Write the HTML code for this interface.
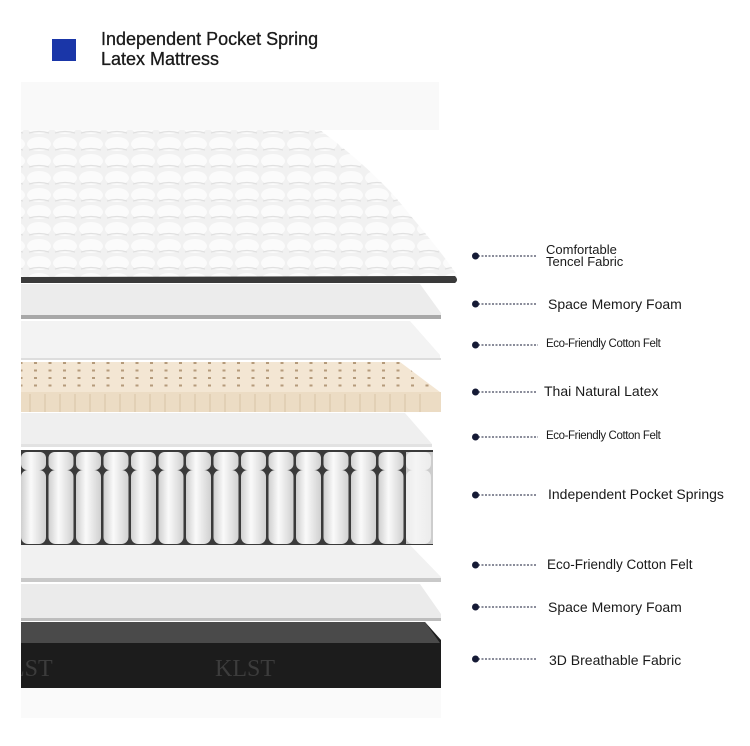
<!DOCTYPE html>
<html><head><meta charset="utf-8"><style>
html,body{margin:0;padding:0;background:#fff;width:750px;height:746px;overflow:hidden;font-family:"Liberation Sans",sans-serif;}
.t{position:absolute;color:#1a1a1a;white-space:nowrap;}
</style></head><body>
<div style="position:absolute;left:52px;top:39px;width:24px;height:22px;background:#1a36a8"></div>
<div class="t" style="left:101px;top:29px;font-size:18px;line-height:20px;color:#1a1a1a;-webkit-text-stroke:0.3px #1a1a1a">Independent Pocket Spring<br>Latex Mattress</div>
<svg width="750" height="746" style="position:absolute;left:0;top:0">
<defs>
<pattern id="q" width="26" height="17" patternUnits="userSpaceOnUse">
<rect width="26" height="17" fill="#f1f1f1"/>
<ellipse cx="13" cy="8" rx="12" ry="7" fill="#fbfbfb"/>
<path d="M3 14 Q13 11 23 14" stroke="#e0e0e0" stroke-width="1.2" fill="none"/>
</pattern>
<pattern id="dots" width="14.5" height="7.5" patternUnits="userSpaceOnUse">
<rect width="14.5" height="7.5" fill="#f3e6d3"/>
<rect x="5" y="2" width="3" height="2" fill="#b59b7b"/>
</pattern>
<linearGradient id="sp" x1="0" x2="1"><stop offset="0" stop-color="#cfcfcf"/><stop offset=".4" stop-color="#fafafa"/><stop offset="1" stop-color="#d0d0d0"/></linearGradient>
<clipPath id="c"><rect x="21" y="600" width="420" height="100"/></clipPath>
</defs>
<rect x="21" y="82" width="418" height="48" fill="#f9f9f9"/>
<!-- top quilted -->
<path d="M21 130 L320 130 Q380 175 410 215 Q440 250 457 275 L457 282 L21 282 Z" fill="url(#q)"/>
<path d="M21 277 L455 276 Q459 280 455 283 L21 283 Z" fill="#3a3a3a"/>
<!-- foam -->
<path d="M21 284 L420 284 L441 313 L441 318 L21 318 Z" fill="#ececec"/>
<rect x="21" y="315" width="420" height="4" fill="#a8a8a8"/>
<!-- felt -->
<path d="M21 321 L410 321 L440 355 L440 360 L21 360 Z" fill="#f3f3f3"/>
<rect x="21" y="358" width="420" height="2" fill="#ddd"/>
<!-- latex -->
<path d="M21 362 L400 362 L440 392 L21 392 Z" fill="url(#dots)"/>
<rect x="21" y="392" width="420" height="20" fill="#ecdcc4"/>
<g stroke="#d8c4a6" stroke-width="1">
<path d="M30 394V412M45 394V412M60 394V412M75 394V412M90 394V412M105 394V412M120 394V412M135 394V412M150 394V412M165 394V412M180 394V412M195 394V412M210 394V412M225 394V412M240 394V412M255 394V412M270 394V412M285 394V412M300 394V412M315 394V412M330 394V412M345 394V412M360 394V412M375 394V412M390 394V412M405 394V412M420 394V412"/>
</g>
<!-- felt -->
<path d="M21 413 L405 413 L432 444 L432 447 L21 447 Z" fill="#efefef"/>
<rect x="21" y="444" width="411" height="3" fill="#e2e2e2"/>
<!-- springs -->
<rect x="21" y="450" width="412" height="95" fill="#3a3a3a"/>
<g id="cols">
<rect x="21" y="452" width="25" height="18" rx="6" fill="url(#sp)"/>
<rect x="21" y="470" width="25" height="74" rx="7" fill="url(#sp)"/>
</g>
<use href="#cols" x="27.5"/><use href="#cols" x="55"/><use href="#cols" x="82.5"/><use href="#cols" x="110"/><use href="#cols" x="137.5"/><use href="#cols" x="165"/><use href="#cols" x="192.5"/><use href="#cols" x="220"/><use href="#cols" x="247.5"/><use href="#cols" x="275"/><use href="#cols" x="302.5"/><use href="#cols" x="330"/><use href="#cols" x="357.5"/><use href="#cols" x="385"/>
<rect x="406" y="452" width="27" height="92" fill="#f2f2f2" opacity=".8"/>
<!-- felt -->
<path d="M21 545 L410 545 L441 577 L441 582 L21 582 Z" fill="#f1f1f1"/>
<rect x="21" y="578" width="420" height="4" fill="#c9c9c9"/>
<!-- foam -->
<path d="M21 584 L420 584 L441 614 L441 621 L21 621 Z" fill="#ebebeb"/>
<rect x="21" y="618" width="420" height="3" fill="#bdbdbd"/>
<!-- base -->
<path d="M21 622 L425 622 L441 640 L441 688 L21 688 Z" fill="#1c1c1c"/>
<path d="M21 622 L425 622 L440 643 L21 643 Z" fill="#4a4a4a"/>
<g clip-path="url(#c)">
<text x="215" y="676" font-family="Liberation Serif,serif" font-size="24" fill="#3c3c3c">KLST</text>
<text x="10" y="676" font-family="Liberation Serif,serif" font-size="24" fill="#3c3c3c">LST</text>
</g>
<rect x="21" y="688" width="420" height="30" fill="#fafafa"/>
<!-- connectors -->
<g fill="#151a35" stroke="#151a35">
<g stroke-dasharray="2,1.5" stroke-width="1">
<line x1="478" y1="256" x2="536" y2="256"/><line x1="478" y1="304" x2="536" y2="304"/><line x1="478" y1="345" x2="538" y2="345"/><line x1="478" y1="392" x2="536" y2="392"/><line x1="478" y1="437" x2="538" y2="437"/><line x1="478" y1="495" x2="536" y2="495"/><line x1="478" y1="565" x2="536" y2="565"/><line x1="478" y1="607" x2="536" y2="607"/><line x1="478" y1="659" x2="536" y2="659"/>
</g>
<g stroke="none"><circle cx="475.5" cy="256" r="3.5"/><circle cx="475.5" cy="304" r="3.5"/><circle cx="475.5" cy="345" r="3.5"/><circle cx="475.5" cy="392" r="3.5"/><circle cx="475.5" cy="437" r="3.5"/><circle cx="475.5" cy="495" r="3.5"/><circle cx="475.5" cy="565" r="3.5"/><circle cx="475.5" cy="607" r="3.5"/><circle cx="475.5" cy="659" r="3.5"/></g>
</g>
</svg>
<div class="t" style="left:546px;top:244px;font-size:13px;line-height:12px">Comfortable<br>Tencel Fabric</div>
<div class="t" style="left:548px;top:296px;font-size:14px">Space Memory Foam</div>
<div class="t" style="left:546px;top:338px;font-size:11.5px;letter-spacing:-0.4px">Eco-Friendly Cotton Felt</div>
<div class="t" style="left:544px;top:383px;font-size:14px">Thai Natural Latex</div>
<div class="t" style="left:546px;top:430px;font-size:11.5px;letter-spacing:-0.4px">Eco-Friendly Cotton Felt</div>
<div class="t" style="left:548px;top:486px;font-size:14px">Independent Pocket Springs</div>
<div class="t" style="left:547px;top:557px;font-size:13.5px">Eco-Friendly Cotton Felt</div>
<div class="t" style="left:548px;top:599px;font-size:14px">Space Memory Foam</div>
<div class="t" style="left:549px;top:652px;font-size:14px">3D Breathable Fabric</div>
</body></html>
